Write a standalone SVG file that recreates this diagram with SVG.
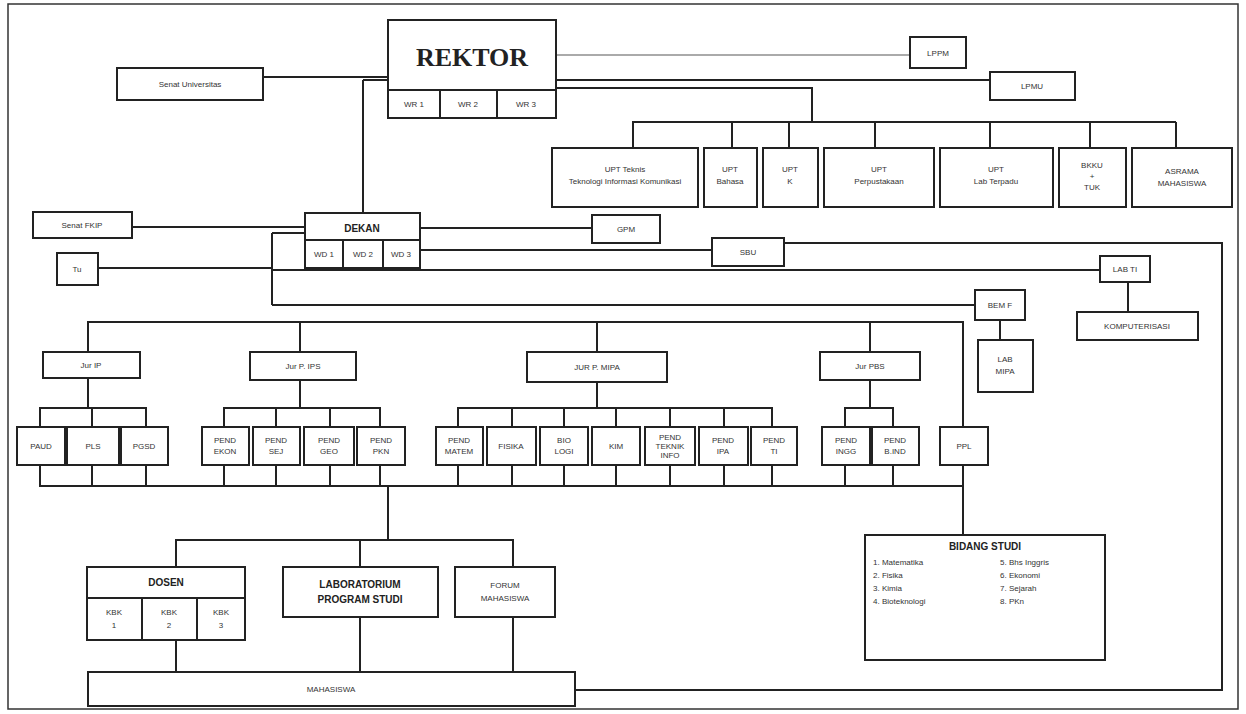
<svg xmlns="http://www.w3.org/2000/svg" width="1246" height="714" viewBox="0 0 1246 714">
<style>
.b{fill:#fff;stroke:#222;stroke-width:2}
.t{font-family:"Liberation Sans",Arial,sans-serif;font-size:8px;fill:#333;text-anchor:middle}
.tb{font-family:"Liberation Sans",Arial,sans-serif;font-size:10px;font-weight:bold;fill:#222;text-anchor:middle}
.tl{font-family:"Liberation Sans",Arial,sans-serif;font-size:8px;fill:#333}
.c path{stroke:#222;stroke-width:2;fill:none}
</style>
<rect x="8" y="4" width="1230" height="705" fill="#fff" stroke="#333" stroke-width="1.5"/>
<g class="c" id="connectors">
<path d="M263 77H388"/>
<path d="M363 80H388M363 80V213"/>
<path d="M556 55H910" style="stroke:#aaa"/>
<path d="M556 80H990"/>
<path d="M556 88H812V122"/>
<path d="M633 148V122H1176M732 122V148M789 122V148M875 122V148M990 122V148M1090 122V148M1176 122V148"/>
<path d="M132 227H305"/>
<path d="M98 268H272M272 233H305M272 233V305"/>
<path d="M420 228H592"/>
<path d="M420 250H712"/>
<path d="M784 243H1222V690H575"/>
<path d="M272 270H1100"/>
<path d="M1128 282V312"/>
<path d="M272 305H975"/>
<path d="M1000 320V340"/>
<path d="M88 352V322H963V427M300 322V352M597 322V352M870 322V352M963 465V486"/>
<path d="M88 378V408M40 427V408H146V427M92 408V427"/>
<path d="M300 380V408M224 427V408H380V427M276 408V427M330 408V427"/>
<path d="M597 382V408M458 427V408H772V427M512 408V427M564 408V427M616 408V427M670 408V427M724 408V427"/>
<path d="M870 380V408M845 427V408H893V427"/>
<path d="M40 465V486H963M92 465V486M146 465V486M224 465V486M276 465V486M330 465V486M380 465V486M458 465V486M512 465V486M564 465V486M616 465V486M670 465V486M724 465V486M772 465V486M845 465V486M893 465V486"/>
<path d="M963 465V535"/>
<path d="M388 486V540M176 567V540H513V567M360 540V567"/>
<path d="M176 640V672M360 617V672M513 617V672"/>
</g>
<g id="rektor">
<rect class="b" x="388" y="20" width="168" height="98"/>
<text x="472" y="66" font-family="Liberation Serif,serif" font-size="26" font-weight="bold" fill="#222" text-anchor="middle">REKTOR</text>
<rect class="b" x="388" y="90" width="52" height="28"/><text class="t" x="414" y="107">WR 1</text>
<rect class="b" x="440" y="90" width="57" height="28"/><text class="t" x="468" y="107">WR 2</text>
<rect class="b" x="497" y="90" width="59" height="28"/><text class="t" x="526" y="107">WR 3</text>
</g>
<g id="senat-univ"><rect class="b" x="117" y="68" width="146" height="32"/><text class="t" x="190" y="87">Senat Universitas</text></g>
<g id="lppm"><rect class="b" x="910" y="37" width="56" height="31"/><text class="t" x="938" y="56">LPPM</text></g>
<g id="lpmu"><rect class="b" x="990" y="72" width="85" height="28"/><text class="t" x="1032" y="89">LPMU</text></g>
<g id="upt1"><rect class="b" x="552" y="148" width="146" height="59"/><text class="t" x="625" y="172">UPT Teknis</text><text class="t" x="625" y="184">Teknologi Informasi Komunikasi</text></g>
<g id="upt2"><rect class="b" x="704" y="148" width="53" height="59"/><text class="t" x="730" y="172">UPT</text><text class="t" x="730" y="184">Bahasa</text></g>
<g id="upt3"><rect class="b" x="763" y="148" width="55" height="59"/><text class="t" x="790" y="172">UPT</text><text class="t" x="790" y="184">K</text></g>
<g id="upt4"><rect class="b" x="824" y="148" width="110" height="59"/><text class="t" x="879" y="172">UPT</text><text class="t" x="879" y="184">Perpustakaan</text></g>
<g id="upt5"><rect class="b" x="940" y="148" width="113" height="59"/><text class="t" x="996" y="172">UPT</text><text class="t" x="996" y="184">Lab Terpadu</text></g>
<g id="upt6"><rect class="b" x="1059" y="148" width="67" height="59"/><text class="t" x="1092" y="168">BKKU</text><text class="t" x="1092" y="179">+</text><text class="t" x="1092" y="190">TUK</text></g>
<g id="upt7"><rect class="b" x="1132" y="148" width="100" height="59"/><text class="t" x="1182" y="174">ASRAMA</text><text class="t" x="1182" y="186">MAHASISWA</text></g>
<g id="senat-fkip"><rect class="b" x="33" y="212" width="99" height="26"/><text class="t" x="82" y="228">Senat FKIP</text></g>
<g id="tu"><rect class="b" x="57" y="253" width="41" height="32"/><text class="t" x="77" y="272">Tu</text></g>
<g id="dekan">
<rect class="b" x="305" y="213" width="115" height="55"/>
<text class="tb" x="362" y="232">DEKAN</text>
<rect class="b" x="305" y="240" width="38" height="28"/><text class="t" x="324" y="257">WD 1</text>
<rect class="b" x="343" y="240" width="40" height="28"/><text class="t" x="363" y="257">WD 2</text>
<rect class="b" x="383" y="240" width="37" height="28"/><text class="t" x="401" y="257">WD 3</text>
</g>
<g id="gpm"><rect class="b" x="592" y="215" width="68" height="28"/><text class="t" x="626" y="232">GPM</text></g>
<g id="sbu"><rect class="b" x="712" y="238" width="72" height="28"/><text class="t" x="748" y="255">SBU</text></g>
<g id="labti"><rect class="b" x="1100" y="256" width="50" height="26"/><text class="t" x="1125" y="272">LAB TI</text></g>
<g id="komputer"><rect class="b" x="1077" y="312" width="121" height="28"/><text class="t" x="1137" y="329">KOMPUTERISASI</text></g>
<g id="bemf"><rect class="b" x="975" y="290" width="50" height="30"/><text class="t" x="1000" y="308">BEM F</text></g>
<g id="labmipa"><rect class="b" x="978" y="340" width="55" height="52"/><text class="t" x="1005" y="362">LAB</text><text class="t" x="1005" y="374">MIPA</text></g>
<g id="jur-ip"><rect class="b" x="43" y="352" width="97" height="26"/><text class="t" x="91" y="368">Jur IP</text></g>
<g id="jur-ips"><rect class="b" x="250" y="352" width="106" height="28"/><text class="t" x="303" y="369">Jur P. IPS</text></g>
<g id="jur-mipa"><rect class="b" x="527" y="352" width="140" height="30"/><text class="t" x="597" y="370">JUR P. MIPA</text></g>
<g id="jur-pbs"><rect class="b" x="820" y="352" width="100" height="28"/><text class="t" x="870" y="369">Jur PBS</text></g>
<g id="paud"><rect class="b" x="17" y="427" width="48" height="38"/><text class="t" x="41" y="449">PAUD</text></g>
<g id="pls"><rect class="b" x="67" y="427" width="52" height="38"/><text class="t" x="93" y="449">PLS</text></g>
<g id="pgsd"><rect class="b" x="121" y="427" width="47" height="38"/><text class="t" x="144" y="449">PGSD</text></g>
<g id="ips1"><rect class="b" x="202" y="427" width="47" height="38"/><text class="t" x="225" y="443">PEND</text><text class="t" x="225" y="454">EKON</text></g>
<g id="ips2"><rect class="b" x="253" y="427" width="47" height="38"/><text class="t" x="276" y="443">PEND</text><text class="t" x="276" y="454">SEJ</text></g>
<g id="ips3"><rect class="b" x="304" y="427" width="50" height="38"/><text class="t" x="329" y="443">PEND</text><text class="t" x="329" y="454">GEO</text></g>
<g id="ips4"><rect class="b" x="357" y="427" width="48" height="38"/><text class="t" x="381" y="443">PEND</text><text class="t" x="381" y="454">PKN</text></g>
<g id="mipa1"><rect class="b" x="436" y="427" width="47" height="38"/><text class="t" x="459" y="443">PEND</text><text class="t" x="459" y="454">MATEM</text></g>
<g id="mipa2"><rect class="b" x="487" y="427" width="49" height="38"/><text class="t" x="511" y="449">FISIKA</text></g>
<g id="mipa3"><rect class="b" x="540" y="427" width="48" height="38"/><text class="t" x="564" y="443">BIO</text><text class="t" x="564" y="454">LOGI</text></g>
<g id="mipa4"><rect class="b" x="592" y="427" width="48" height="38"/><text class="t" x="616" y="449">KIM</text></g>
<g id="mipa5"><rect class="b" x="645" y="427" width="50" height="38"/><text class="t" x="670" y="440">PEND</text><text class="t" x="670" y="449">TEKNIK</text><text class="t" x="670" y="458">INFO</text></g>
<g id="mipa6"><rect class="b" x="699" y="427" width="49" height="38"/><text class="t" x="723" y="443">PEND</text><text class="t" x="723" y="454">IPA</text></g>
<g id="mipa7"><rect class="b" x="751" y="427" width="46" height="38"/><text class="t" x="774" y="443">PEND</text><text class="t" x="774" y="454">TI</text></g>
<g id="pbs1"><rect class="b" x="822" y="427" width="48" height="38"/><text class="t" x="846" y="443">PEND</text><text class="t" x="846" y="454">INGG</text></g>
<g id="pbs2"><rect class="b" x="872" y="427" width="47" height="38"/><text class="t" x="895" y="443">PEND</text><text class="t" x="895" y="454">B.IND</text></g>
<g id="ppl"><rect class="b" x="940" y="427" width="48" height="38"/><text class="t" x="964" y="449">PPL</text></g>
<g id="dosen">
<rect class="b" x="87" y="567" width="158" height="73"/>
<text class="tb" x="166" y="586">DOSEN</text>
<rect class="b" x="87" y="598" width="55" height="42"/><text class="t" x="114" y="615">KBK</text><text class="t" x="114" y="628">1</text>
<rect class="b" x="142" y="598" width="55" height="42"/><text class="t" x="169" y="615">KBK</text><text class="t" x="169" y="628">2</text>
<rect class="b" x="197" y="598" width="48" height="42"/><text class="t" x="221" y="615">KBK</text><text class="t" x="221" y="628">3</text>
</g>
<g id="lab-prodi"><rect class="b" x="283" y="567" width="155" height="50"/><text class="tb" x="360" y="588">LABORATORIUM</text><text class="tb" x="360" y="603">PROGRAM STUDI</text></g>
<g id="forum"><rect class="b" x="455" y="567" width="100" height="50"/><text class="t" x="505" y="588">FORUM</text><text class="t" x="505" y="601">MAHASISWA</text></g>
<g id="mahasiswa"><rect class="b" x="88" y="672" width="487" height="34"/><text class="t" x="331" y="692">MAHASISWA</text></g>
<g id="bidang-studi">
<rect class="b" x="865" y="535" width="240" height="125"/>
<text class="tb" x="985" y="550" font-size="8">BIDANG STUDI</text>
<text class="tl" x="873" y="565">1. Matematika</text>
<text class="tl" x="873" y="578">2. Fisika</text>
<text class="tl" x="873" y="591">3. Kimia</text>
<text class="tl" x="873" y="604">4. Bioteknologi</text>
<text class="tl" x="1000" y="565">5. Bhs Inggris</text>
<text class="tl" x="1000" y="578">6. Ekonomi</text>
<text class="tl" x="1000" y="591">7. Sejarah</text>
<text class="tl" x="1000" y="604">8. PKn</text>
</g>
</svg>
